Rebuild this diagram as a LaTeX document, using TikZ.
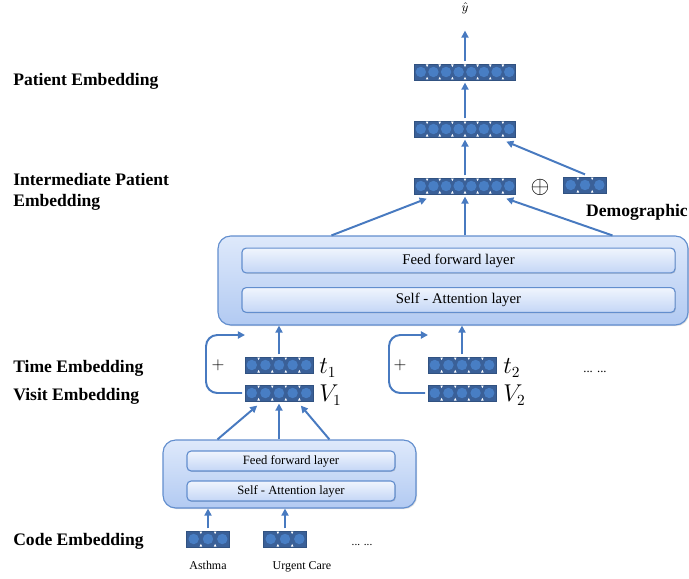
\documentclass[tikz,border=0pt]{standalone}
\usepackage{fontspec}
\setmainfont{Liberation Serif}
\usepackage{tikz}
\usetikzlibrary{arrows.meta,positioning,calc,fit,shadows}
\definecolor{vecdark}{RGB}{58,96,152}
\definecolor{vecball}{RGB}{72,126,196}
\definecolor{arrowblue}{RGB}{72,122,192}
\definecolor{boxtop}{RGB}{222,233,251}
\definecolor{boxbot}{RGB}{178,202,242}
\definecolor{boxedge}{RGB}{98,142,206}
\definecolor{laytop}{RGB}{240,245,253}
\definecolor{laybot}{RGB}{196,214,246}

% embedding vector: name, centre, cells, width (px)
\newcommand{\embvec}[4]{%
  \node[vec, minimum width=#4*0.025cm] (#1) at #2 {};
  \foreach \k in {1,...,#3}{%
    \fill[vecball] ($#2+({(\k-0.5-#3/2)*#4/#3},0)$) circle (0.13cm);
  }
  \pgfmathtruncatemacro\lastcell{#3-1}%
  \foreach \k in {1,...,\lastcell}{%
    \fill[white] ($#2+({(\k-#3/2)*#4/#3},-7.5)$) ++(-1.3,0) -- ++(2.6,0) -- ++(-1.3,2.6) -- cycle;
    \fill[white] ($#2+({(\k-#3/2)*#4/#3},7.5)$) ++(-1.3,0) -- ++(2.6,0) -- ++(-1.3,-2.6) -- cycle;
  }
}

\begin{document}
\begin{tikzpicture}[x=0.025cm, y=-0.025cm,
    vec/.style={fill=vecdark, draw=vecdark!85!black, line width=0.3pt, minimum height=0.39cm, inner sep=0, outer sep=0.07cm},
    arrow/.style={-{Triangle[length=5pt,width=5pt]}, line width=1.4pt, draw=arrowblue},
    encbox/.style={draw=boxedge, line width=0.8pt, rounded corners=9pt, top color=boxtop, bottom color=boxbot, inner sep=0,
        drop shadow={shadow xshift=0.8pt, shadow yshift=-0.8pt, opacity=0.25}},
    layerbox/.style={draw=boxedge, line width=0.8pt, rounded corners=3pt, top color=laytop, bottom color=laybot, inner sep=0,
        drop shadow={shadow xshift=0.6pt, shadow yshift=-0.6pt, opacity=0.3}},
    biglayer/.style={layerbox, minimum width=10.825cm, minimum height=0.62cm, font=\fontsize{10.5}{12}\selectfont},
    smalllayer/.style={layerbox, minimum width=5.2cm, minimum height=0.5cm, font=\fontsize{9}{11}\selectfont},
    lbl/.style={font=\fontsize{12.5}{14.5}\selectfont\bfseries, inner sep=0, anchor=west, align=left},
    sym/.style={font=\fontsize{16}{18}\selectfont, inner sep=0, anchor=west},
    codetxt/.style={font=\fontsize{8.5}{10}\selectfont, inner sep=0, anchor=base}
]
\useasboundingbox (0,0) rectangle (689,578);

% Left labels
\node[lbl] (lpat) at (13,81) {Patient Embedding};
\node[lbl] (linter) at (13,192) {Intermediate Patient\\Embedding};
\node[lbl] (ltime) at (13,368) {Time Embedding};
\node[lbl] (lvisit) at (13,396) {Visit Embedding};
\node[lbl] (lcode) at (13,541) {Code Embedding};

% Patient level
\node[font=\fontsize{9}{10}\selectfont] (yhat) at (465,8) {$\hat{y}$};
\embvec{pat2}{(465,72)}{8}{101}
\embvec{pat1}{(465,129)}{8}{101}
\embvec{inter}{(465,186)}{8}{101}
\node[font=\fontsize{16}{18}\selectfont] (oplus) at (540,187) {$\oplus$};
\embvec{demo}{(585,185)}{3}{43}
\node[lbl, anchor=east] (demotxt) at (688,212) {Demographic};

\draw[arrow] (pat2) -- ($(yhat.south)+(0,12)$);
\draw[arrow] (pat1) -- (pat2);
\draw[arrow] (inter) -- (pat1);
\draw[arrow] (demo.north) -- ($(pat1.south east)+(-12,2)$);

% Visit encoder
\node[encbox, fit={(218,236) (688,325)}] (enc) {};
\node[biglayer] (ffn) at (458.5,260.5) {Feed forward layer};
\node[biglayer] (att) at (458.5,300) {Self - Attention layer};

\draw[arrow] ($(enc.north west)+(114,0)$) -- ($(inter.south west)+(15,2)$);
\draw[arrow] (enc.north -| inter) -- (inter);
\draw[arrow] ($(enc.north west)+(395,0)$) -- ($(inter.south east)+(-12,2)$);

% Visit 1
\embvec{t1}{(279,365)}{5}{68}
\embvec{v1}{(279,393)}{5}{68}
\node[sym] (t1txt) at (319,368) {$t_1$};
\node[sym] (v1txt) at (319,395) {$V_1$};
\node[font=\fontsize{12}{14}\selectfont] (plus1) at (218,365) {$+$};
\coordinate (skip1) at (245,335);
\draw[arrow, rounded corners=8pt] (v1.west) -| ($(skip1)+(-39,0)$) -- (skip1);
\draw[arrow] (t1) -- (t1 |- enc.south);

% Visit 2
\embvec{t2}{(462,365)}{5}{68}
\embvec{v2}{(462,393)}{5}{68}
\node[sym] (t2txt) at (503,368) {$t_2$};
\node[sym] (v2txt) at (503,395) {$V_2$};
\node[font=\fontsize{12}{14}\selectfont] (plus2) at (400,365) {$+$};
\coordinate (skip2) at (428,335);
\draw[arrow, rounded corners=8pt] (v2.west) -| ($(skip2)+(-39,0)$) -- (skip2);
\draw[arrow] (t2) -- (t2 |- enc.south);
\node[font=\fontsize{9}{10}\selectfont] (vdots) at (595,372) {... ...};

% Code encoder
\node[encbox, fit={(163,440) (416,508)}] (venc) {};
\node[smalllayer] (vffn) at (291,461) {Feed forward layer};
\node[smalllayer] (vatt) at (291,491) {Self - Attention layer};

\draw[arrow] ($(venc.north west)+(55,0)$) -- ($(v1.south west)+(15,2)$);
\draw[arrow] (venc.north -| v1) -- (v1);
\draw[arrow] ($(venc.north west)+(167,0)$) -- ($(v1.south east)+(-15,2)$);

% Codes
\embvec{asthma}{(208,539)}{3}{43}
\embvec{urgent}{(285,539)}{3}{43}
\draw[arrow] (asthma) -- (asthma |- venc.south);
\draw[arrow] (urgent) -- (urgent |- venc.south);
\node[codetxt] (asthmatxt) at (208,569) {Asthma};
\node[codetxt] (urgenttxt) at (302,569) {Urgent Care};
\node[font=\fontsize{8}{10}\selectfont] (cdots) at (362,545) {... ...};

\end{tikzpicture}
\end{document}
